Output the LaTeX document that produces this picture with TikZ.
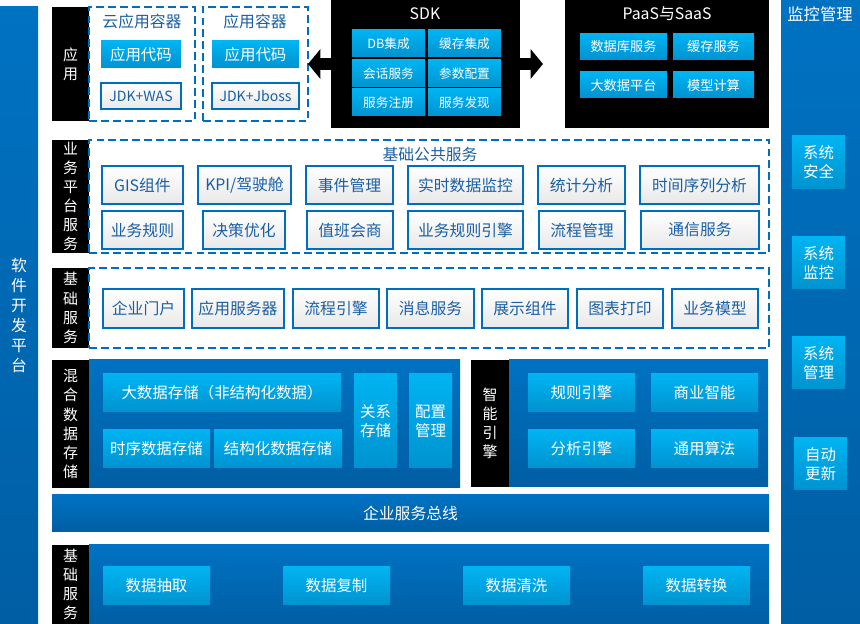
\documentclass[tikz,border=0pt]{standalone}
\usepackage{fontspec}
\setmainfont{Noto Sans CJK SC}
\usepackage{tikz}
\usetikzlibrary{arrows.meta}
\usepackage{xcolor}
\definecolor{panelTop}{RGB}{0,114,194}
\definecolor{panelBot}{RGB}{0,94,164}
\definecolor{cyanTop}{RGB}{0,180,242}
\definecolor{cyanBot}{RGB}{0,146,208}
\definecolor{lineBlue}{RGB}{0,110,190}
\definecolor{textBlue}{RGB}{25,95,165}
% box from its corners in pixel units: style, name, x1, y1, x2, y2, text
\newcommand{\bx}[7]{\node[#1,minimum width={(#5-#3)*0.02cm},minimum height={(#6-#4)*0.02cm}] (#2) at ({(#3+#5)/2},{(#4+#6)/2}) {#7};}

\begin{document}
\begin{tikzpicture}[x=0.02cm,y=-0.02cm,
  every node/.style={inner sep=0pt,outer sep=0pt},
  panel/.style={top color=panelTop,bottom color=panelBot,text=white,align=center,font=\fontsize{9}{11.4}\selectfont},
  blk/.style={fill=black,text=white,align=center,font=\fontsize{8.5}{10.9}\selectfont},
  cbox/.style={top color=cyanTop,bottom color=cyanBot,text=white,align=center,font=\fontsize{8.8}{10.8}\selectfont},
  sbox/.style={cbox,font=\fontsize{7.2}{9}\selectfont},
  wbox/.style={top color=white,bottom color=black!9,draw=lineBlue,line width=0.7pt,text=textBlue,font=\fontsize{9}{11}\selectfont},
  dbox/.style={draw=lineBlue,line width=0.8pt,dash pattern=on 4.5pt off 2.3pt},
  ttl/.style={text=white,font=\fontsize{9}{11}\selectfont},
  ttlb/.style={text=textBlue,font=\fontsize{9}{11}\selectfont},
  fatarrow/.style={line width=6.3pt,-{Triangle[width=16.5pt,length=7pt]}}]
\useasboundingbox (0,0) rectangle (860,624);

% side columns
\bx{panel}{devp}{0}{7}{38}{624}{软\\件\\开\\发\\平\\台}
\bx{panel}{mon}{781}{0}{860}{624}{}
\node[ttl,font=\fontsize{9.3}{11}\selectfont] (mont) at (820,14) {监控管理};
\bx{cbox}{msec}{792}{136}{845}{189}{系统\\安全}
\bx{cbox}{mmon}{792}{237}{845}{289}{系统\\监控}
\bx{cbox}{mman}{792}{337}{845}{389}{系统\\管理}
\bx{cbox}{mupd}{794}{438}{847}{490}{自动\\更新}

% application
\bx{blk}{app}{52}{7}{89}{121}{应\\用}
\bx{dbox}{ctA}{89}{7}{195}{121}{}
\node[ttlb] (ctAt) at (142,21) {云应用容器};
\bx{cbox}{codeA}{101}{41}{181}{68}{应用代码}
\bx{wbox,font=\fontsize{8}{10}\selectfont}{jdkA}{101}{83}{181}{109}{JDK+WAS}
\bx{dbox}{ctB}{203}{7}{308}{121}{}
\node[ttlb] (ctBt) at (255,21) {应用容器};
\bx{cbox}{codeB}{212}{41}{299}{68}{应用代码}
\bx{wbox,font=\fontsize{8}{10}\selectfont}{jdkB}{212}{83}{299}{109}{JDK+Jboss}

\bx{blk}{sdk}{331}{0}{520}{128}{}
\node[ttl] (sdkt) at (425,14) {SDK};
\foreach \n/\lbl/\xa/\ya in {dbj/DB集成/352/30, hcj/缓存集成/428/30, hhf/会话服务/352/60,
    cspz/参数配置/428/60, fwzc/服务注册/352/89, fwfx/服务发现/428/89}{
  \bx{sbox}{\n}{\xa}{\ya}{\xa+73}{\ya+27}{\lbl}
}

\bx{blk}{paas}{565}{0}{769}{128}{}
\node[ttl] (paast) at (667,14) {PaaS与SaaS};
\foreach \n/\lbl/\xa/\xb/\ya in {sjk/数据库服务/580/667/34, hcfw/缓存服务/673/754/34,
    dsj/大数据平台/580/667/72, mxjs/模型计算/673/754/72}{
  \bx{sbox,font=\fontsize{7.5}{9}\selectfont}{\n}{\xa}{\ya}{\xb}{\ya+26}{\lbl}
}

\coordinate (paasin) at (543,64);
\draw[fatarrow] (sdk.west) -- (ctB.east);
\draw[fatarrow] (sdk.east) -- (paasin);

% business platform services
\bx{blk}{bizp}{52}{140}{89}{253}{业\\务\\平\\台\\服\\务}
\bx{dbox}{pub}{89}{140}{769}{253}{}
\node[ttlb] (pubt) at (430,154) {基础公共服务};
\foreach \n/\lbl/\xa/\xb in {gis/GIS组件/102/183, kpi/{KPI/驾驶舱}/198/291, sjgl/事件管理/306/393,
    ssjk/实时数据监控/408/523, tjfx/统计分析/538/625, sjxl/时间序列分析/640/759}{
  \bx{wbox}{\n}{\xa}{166}{\xb}{204}{\lbl}
}
\foreach \n/\lbl/\xa/\xb in {ywgz/业务规则/102/183, jcyh/决策优化/203/285, zbhs/值班会商/307/393,
    gzyq/业务规则引擎/408/523, lcgl/流程管理/539/625, txfw/通信服务/641/759}{
  \bx{wbox}{\n}{\xa}{211}{\xb}{249}{\lbl}
}

% basic services
\bx{blk}{basp}{52}{268}{89}{348}{基\\础\\服\\务}
\bx{dbox}{bas}{89}{268}{769}{348}{}
\foreach \n/\lbl/\xa/\xb in {qymh/企业门户/103/184, yyfw/应用服务器/192/284, lcyq/流程引擎/293/379,
    xxfw/消息服务/387/474, zszj/展示组件/482/568, tbdy/图表打印/577/663, ywmx/业务模型/672/758}{
  \bx{wbox}{\n}{\xa}{289}{\xb}{328}{\lbl}
}

% hybrid storage
\bx{blk}{mix}{52}{360}{89}{488}{混\\合\\数\\据\\存\\储}
\bx{panel}{mixp}{89}{360}{460}{488}{}
\bx{cbox}{dsjcc}{103}{374}{341}{412}{大数据存储（非结构化数据）}
\bx{cbox}{sxcc}{103}{430}{210}{468}{时序数据存储}
\bx{cbox}{jghcc}{214}{430}{342}{468}{结构化数据存储}
\bx{cbox}{gxcc}{354}{374}{397}{468}{关系\\存储}
\bx{cbox}{pzgl}{409}{374}{452}{468}{配置\\管理}

% intelligent engine
\bx{blk}{ai}{471}{360}{509}{487}{智\\能\\引\\擎}
\bx{panel}{aip}{509}{360}{768}{487}{}
\bx{cbox}{gzyq2}{528}{374}{635}{412}{规则引擎}
\bx{cbox}{syzn}{651}{374}{758}{412}{商业智能}
\bx{cbox}{fxyq}{528}{430}{635}{468}{分析引擎}
\bx{cbox}{tysf}{651}{430}{758}{468}{通用算法}

% bus
\bx{panel}{esb}{52}{495}{769}{532}{企业服务总线}

% data services
\bx{blk}{dat}{52}{545}{89}{624}{基\\础\\服\\务}
\bx{panel}{datp}{89}{545}{769}{624}{}
\foreach \n/\lbl/\xa in {sjcq/数据抽取/103, sjfz/数据复制/283, sjqx/数据清洗/463, sjzh/数据转换/643}{
  \bx{cbox}{\n}{\xa}{567}{\xa+107}{605}{\lbl}
}
\end{tikzpicture}
\end{document}
